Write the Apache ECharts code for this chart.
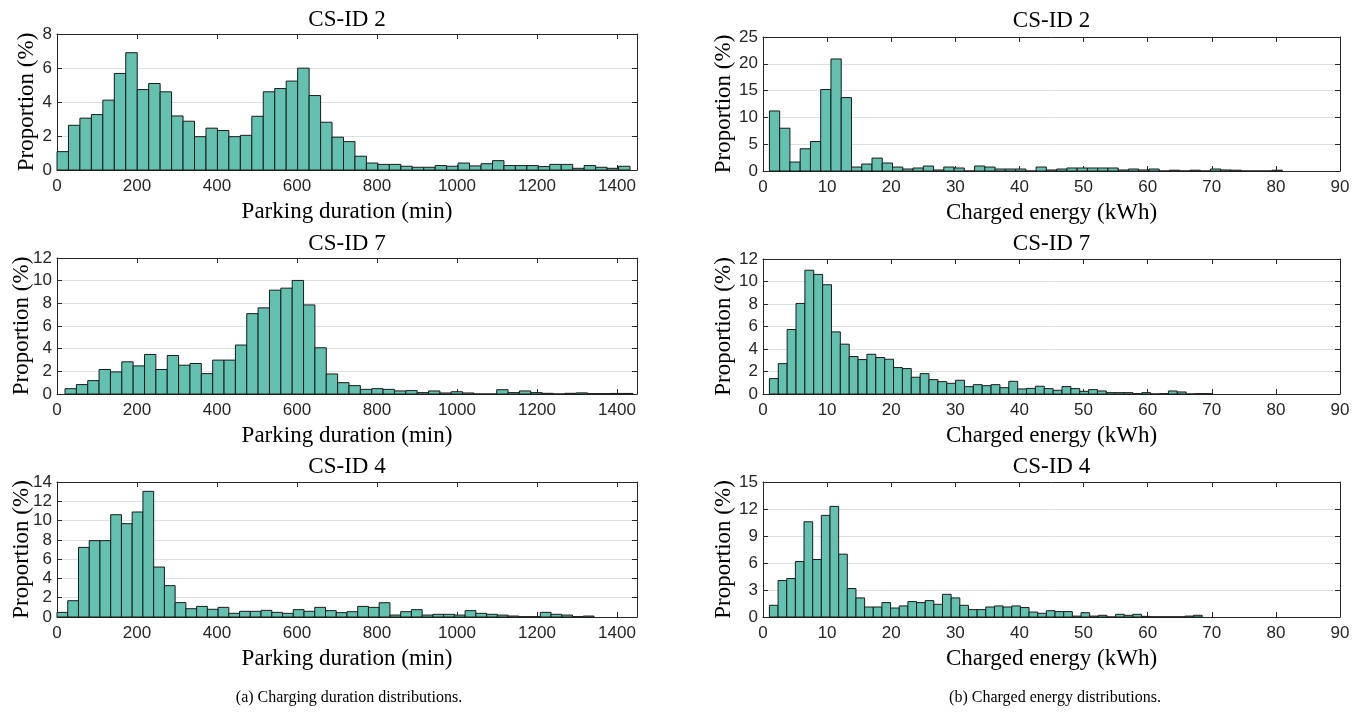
<!DOCTYPE html>
<html>
<head>
<meta charset="utf-8">
<title>Charging duration and energy distributions</title>
<script src="https://cdn.jsdelivr.net/npm/echarts@6/dist/echarts.min.js"></script>
<style>
  html, body { margin: 0; padding: 0; background: #fff; }
  #main { width: 1364px; height: 715px; }
</style>
</head>
<body>
<div id="main"></div>
<script>
// histogram bins: first edge + bin width (data units), 50 bins each
const dur2Start = 0, dur2Width = 28.65;
const dur7Start = 20, dur7Width = 28.4;
const dur4Start = 0, dur4Width = 26.85;
const energy2Start = 1, energy2Width = 1.6;
const energy7Start = 1, energy7Width = 1.383;
const energy4Start = 1, energy4Width = 1.35;

// proportion (%) per bin
const dur2Values = [1.08, 2.63, 3.05, 3.26, 4.11, 5.68, 6.90, 4.73, 5.09, 4.60,
  3.18, 2.87, 1.96, 2.46, 2.32, 1.96, 2.04, 3.16, 4.60, 4.79,
  5.23, 5.99, 4.38, 2.81, 1.93, 1.67, 0.81, 0.41, 0.33, 0.33,
  0.22, 0.16, 0.16, 0.26, 0.22, 0.41, 0.24, 0.37, 0.55, 0.26,
  0.26, 0.26, 0.20, 0.33, 0.33, 0.10, 0.26, 0.16, 0.10, 0.22];
const dur7Values = [0.47, 0.83, 1.18, 2.16, 1.95, 2.84, 2.48, 3.49, 2.16, 3.40,
  2.54, 2.69, 1.80, 2.99, 2.99, 4.32, 7.09, 7.60, 9.16, 9.34,
  10.02, 7.86, 4.08, 1.77, 1.00, 0.74, 0.41, 0.47, 0.41, 0.27,
  0.30, 0.12, 0.27, 0.09, 0.20, 0.09, 0, 0, 0.38, 0.12,
  0.27, 0.12, 0.06, 0, 0.06, 0.10, 0.03, 0.03, 0.05, 0.05];
const dur4Values = [0.48, 1.69, 7.22, 7.92, 7.92, 10.61, 9.68, 10.89, 13.03, 5.18,
  3.25, 1.49, 0.86, 1.10, 0.80, 1.00, 0.38, 0.59, 0.59, 0.69,
  0.48, 0.38, 0.76, 0.59, 1.00, 0.66, 0.45, 0.55, 1.10, 1.00,
  1.48, 0.20, 0.55, 0.76, 0.20, 0.28, 0.28, 0.20, 0.66, 0.38,
  0.28, 0.20, 0.10, 0.03, 0.03, 0.48, 0.28, 0.20, 0.03, 0.10];
const energy2Values = [11.2, 7.98, 1.67, 4.15, 5.5, 15.2, 20.9, 13.7, 0.74, 1.3,
  2.41, 1.49, 0.74, 0.37, 0.56, 0.93, 0.19, 0.74, 0.56, 0,
  0.93, 0.74, 0.37, 0.37, 0.37, 0, 0.74, 0.19, 0.37, 0.56,
  0.56, 0.56, 0.56, 0.56, 0.19, 0.37, 0.19, 0.37, 0, 0.15,
  0, 0.15, 0, 0.37, 0.19, 0.15, 0, 0, 0, 0.15];
const energy7Values = [1.37, 2.7, 5.73, 8.05, 11.0, 10.63, 9.71, 5.52, 4.43, 3.33,
  3.06, 3.53, 3.24, 3.09, 2.35, 2.26, 1.49, 1.81, 1.28, 1.1,
  0.95, 1.22, 0.65, 0.83, 0.74, 0.83, 0.56, 1.13, 0.45, 0.5,
  0.69, 0.48, 0.33, 0.66, 0.48, 0.24, 0.39, 0.27, 0.12, 0.12,
  0.12, 0.03, 0.12, 0, 0.03, 0.27, 0.18, 0, 0.03, 0.03];
const energy4Values = [1.3, 4.05, 4.27, 6.16, 10.58, 6.39, 11.29, 12.29, 6.98, 3.16,
  2.12, 1.11, 1.11, 1.6, 1.0, 1.23, 1.71, 1.6, 1.82, 1.41,
  2.52, 2.12, 1.3, 0.82, 0.82, 1.11, 1.23, 1.11, 1.23, 1.05,
  0.55, 0.41, 0.7, 0.6, 0.6, 0.1, 0.48, 0.1, 0.19, 0,
  0.3, 0.19, 0.3, 0.07, 0.02, 0.02, 0.02, 0.02, 0.1, 0.19];

// tick labels
const durTicks = [0, 200, 400, 600, 800, 1000, 1200, 1400];
const energyTicks = [0, 10, 20, 30, 40, 50, 60, 70, 80, 90];

const panelTitles = ['CS-ID 2', 'CS-ID 7', 'CS-ID 4'];
const durName = 'Parking duration (min)';
const energyName = 'Charged energy (kWh)';
const yName = 'Proportion (%)';
const captions = ['(a) Charging duration distributions.', '(b) Charged energy distributions.'];

const serif = '"Liberation Serif", "Times New Roman", serif';
const sans = '"Liberation Sans", Arial, sans-serif';
const ink = '#262626';
const barFill = '#64c1b0';

// panel layout (px)
const panels = [
  { left: 57, top: 34, width: 580, height: 136, title: panelTitles[0], titleTop: 8, yGap: 19,
    start: dur2Start, bw: dur2Width, values: dur2Values, xMax: 1450, xTicks: durTicks, xName: durName, yMax: 8, yStep: 2 },
  { left: 57, top: 258, width: 580, height: 136, title: panelTitles[1], titleTop: 232, yGap: 24,
    start: dur7Start, bw: dur7Width, values: dur7Values, xMax: 1450, xTicks: durTicks, xName: durName, yMax: 12, yStep: 2 },
  { left: 57, top: 482, width: 580, height: 135, title: panelTitles[2], titleTop: 455, yGap: 24,
    start: dur4Start, bw: dur4Width, values: dur4Values, xMax: 1450, xTicks: durTicks, xName: durName, yMax: 14, yStep: 2 },
  { left: 763, top: 37, width: 577, height: 134, title: panelTitles[0], titleTop: 9, yGap: 28,
    start: energy2Start, bw: energy2Width, values: energy2Values, xMax: 90, xTicks: energyTicks, xName: energyName, yMax: 25, yStep: 5 },
  { left: 763, top: 259, width: 577, height: 135, title: panelTitles[1], titleTop: 232, yGap: 28,
    start: energy7Start, bw: energy7Width, values: energy7Values, xMax: 90, xTicks: energyTicks, xName: energyName, yMax: 12, yStep: 2 },
  { left: 763, top: 482, width: 577, height: 135, title: panelTitles[2], titleTop: 455, yGap: 28,
    start: energy4Start, bw: energy4Width, values: energy4Values, xMax: 90, xTicks: energyTicks, xName: energyName, yMax: 15, yStep: 3 }
];

function renderBin(params, api) {
  var topLeft = api.coord([api.value(0), api.value(2)]);
  var bottomRight = api.coord([api.value(1), 0]);
  return {
    type: 'rect',
    shape: {
      x: topLeft[0],
      y: topLeft[1],
      width: bottomRight[0] - topLeft[0],
      height: bottomRight[1] - topLeft[1]
    },
    style: { fill: barFill, stroke: '#1a1a1a', lineWidth: 1 }
  };
}

function plainNumber(v) {
  return String(v);
}

var grid = [], xAxis = [], yAxis = [], series = [], title = [];

panels.forEach(function (p, i) {
  grid.push({ left: p.left, top: p.top, width: p.width, height: p.height, containLabel: false });

  title.push({
    text: p.title, left: p.left + p.width / 2, top: p.titleTop, textAlign: 'center', padding: 0,
    textStyle: { fontFamily: serif, fontSize: 23, fontWeight: 'normal', color: '#000' }
  });

  // bottom x axis with labels
  xAxis.push({
    gridIndex: i, type: 'value', position: 'bottom', min: 0, max: p.xMax,
    name: p.xName, nameLocation: 'middle', nameGap: 30, nameMoveOverlap: false,
    nameTextStyle: { fontFamily: serif, fontSize: 23, color: '#000' },
    axisLine: { show: true, onZero: false, lineStyle: { color: ink, width: 1 } },
    axisTick: { show: true, inside: true, length: 5, customValues: p.xTicks, lineStyle: { color: ink } },
    axisLabel: { show: true, customValues: p.xTicks, formatter: plainNumber, margin: 8, fontFamily: sans, fontSize: 17, color: ink },
    splitLine: { show: false }
  });
  // top x axis, box edge + ticks only
  xAxis.push({
    gridIndex: i, type: 'value', position: 'top', min: 0, max: p.xMax,
    axisLine: { show: true, onZero: false, lineStyle: { color: ink, width: 1 } },
    axisTick: { show: true, inside: true, length: 5, customValues: p.xTicks, lineStyle: { color: ink } },
    axisLabel: { show: false },
    splitLine: { show: false }
  });
  yAxis.push({
    gridIndex: i, type: 'value', position: 'left', min: 0, max: p.yMax, interval: p.yStep,
    name: yName, nameLocation: 'middle', nameGap: p.yGap, nameMoveOverlap: false,
    nameTextStyle: { fontFamily: serif, fontSize: 23, color: '#000' },
    axisLine: { show: true, onZero: false, lineStyle: { color: ink, width: 1 } },
    axisTick: { show: true, inside: true, length: 5, lineStyle: { color: ink } },
    axisLabel: { show: true, formatter: plainNumber, margin: 5, fontFamily: sans, fontSize: 17, color: ink },
    splitLine: { show: true, lineStyle: { color: '#e0e0e0', width: 1 } }
  });
  yAxis.push({
    gridIndex: i, type: 'value', position: 'right', min: 0, max: p.yMax, interval: p.yStep,
    axisLine: { show: true, onZero: false, lineStyle: { color: ink, width: 1 } },
    axisTick: { show: true, inside: true, length: 5, lineStyle: { color: ink } },
    axisLabel: { show: false },
    splitLine: { show: false }
  });

  var bins = p.values.map(function (v, k) {
    return [p.start + k * p.bw, p.start + (k + 1) * p.bw, v];
  });
  series.push({
    type: 'custom', name: p.title, xAxisIndex: i * 2, yAxisIndex: i * 2,
    renderItem: renderBin, encode: { x: [0, 1], y: 2 }, data: bins,
    silent: true, animation: false
  });
});

title.push({
  text: captions[0], left: 349, top: 690, textAlign: 'center', padding: 0,
  textStyle: { fontFamily: serif, fontSize: 16, fontWeight: 'normal', color: '#000' }
});
title.push({
  text: captions[1], left: 1055, top: 690, textAlign: 'center', padding: 0,
  textStyle: { fontFamily: serif, fontSize: 16, fontWeight: 'normal', color: '#000' }
});

var myChart = echarts.init(document.getElementById('main'));
myChart.setOption({
  animation: false,
  backgroundColor: '#fff',
  title: title,
  grid: grid,
  xAxis: xAxis,
  yAxis: yAxis,
  series: series
});
</script>
</body>
</html>
